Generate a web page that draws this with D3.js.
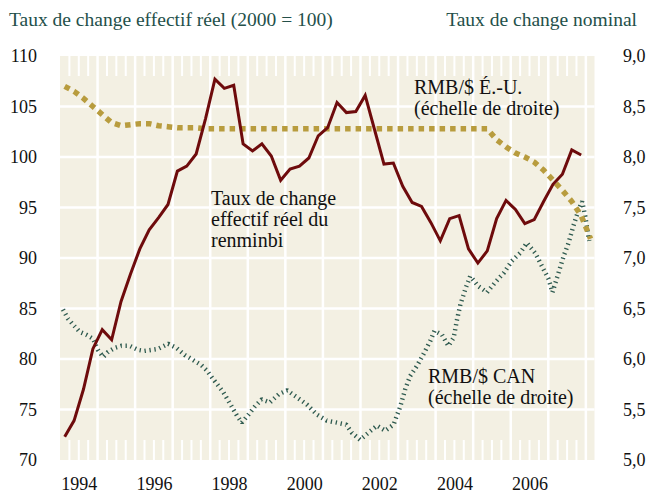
<!DOCTYPE html>
<html>
<head>
<meta charset="utf-8">
<script src="https://cdn.jsdelivr.net/npm/d3@7"></script>
<style>
  body { margin: 0; background: #fff; }
  svg { display: block; font-family: "Liberation Serif", "Times New Roman", serif; }
</style>
</head>
<body>
<div id="chart"></div>
<script>
var width = 649, height = 493;

// quarterly, 1994T1 - 2007T4 (taux de change effectif réel, 2000 = 100)
var reer = [
  72.3, 73.9, 77.0, 81.0,
  82.9, 81.9, 85.7, 88.4,
  90.9, 92.8, 94.0, 95.3,
  98.6, 99.1, 100.3, 103.8,
  107.7, 106.8, 107.1, 101.3,
  100.6, 101.3, 100.1, 97.7,
  98.8, 99.1, 99.9, 102.1,
  102.9, 105.4, 104.4, 104.5,
  106.1, 102.7, 99.3, 99.4,
  97.1, 95.5, 95.1, 93.5,
  91.7, 93.9, 94.2, 90.9,
  89.5, 90.7, 93.9, 95.7,
  94.8, 93.4, 93.8, 95.6,
  97.3, 98.3, 100.7, 100.2
];

// quarterly, 1994T1 - 2008T1 (RMB/$ É.-U.)
var usd = [
  8.70, 8.65, 8.58, 8.50,
  8.42, 8.34, 8.31, 8.32,
  8.33, 8.33, 8.31, 8.30,
  8.29, 8.29, 8.29, 8.28,
  8.28, 8.28, 8.28, 8.28,
  8.28, 8.28, 8.28, 8.28,
  8.28, 8.28, 8.28, 8.28,
  8.28, 8.28, 8.28, 8.28,
  8.28, 8.28, 8.28, 8.28,
  8.28, 8.28, 8.28, 8.28,
  8.28, 8.28, 8.28, 8.28,
  8.28, 8.28, 8.17, 8.10,
  8.04, 8.00, 7.95, 7.87,
  7.77, 7.67, 7.56, 7.42,
  7.19
];

// RMB/$ CAN
var canDates = [
  1994.08, 1994.21, 1994.35, 1994.52, 1994.70, 1994.88, 1995.01, 1995.15, 1995.28, 1995.46,
  1995.63, 1995.86, 1996.08, 1996.24, 1996.43, 1996.61, 1996.88, 1997.10, 1997.32, 1997.54,
  1997.76, 1997.90, 1998.08, 1998.35, 1998.57, 1998.71, 1998.84, 1999.02, 1999.19, 1999.37,
  1999.59, 1999.82, 2000.05, 2000.31, 2000.57, 2000.84, 2001.10, 2001.37, 2001.62, 2001.77,
  2001.99, 2002.21, 2002.44, 2002.66, 2002.88, 2003.06, 2003.19, 2003.32, 2003.50, 2003.68,
  2003.86, 2003.97, 2004.17, 2004.34, 2004.48, 2004.57, 2004.66, 2004.79, 2004.92, 2005.14,
  2005.37, 2005.59, 2005.81, 2006.03, 2006.25, 2006.43, 2006.65, 2006.83, 2007.01, 2007.11,
  2007.27, 2007.41, 2007.54, 2007.67, 2007.81, 2007.90, 2007.98, 2008.09
];
var canValues = [
  6.49, 6.40, 6.34, 6.27, 6.24, 6.20, 6.09, 6.02, 6.07, 6.11,
  6.13, 6.13, 6.09, 6.08, 6.09, 6.10, 6.15, 6.11, 6.04, 5.99,
  5.94, 5.89, 5.80, 5.67, 5.53, 5.44, 5.37, 5.45, 5.53, 5.60,
  5.57, 5.65, 5.69, 5.62, 5.55, 5.45, 5.39, 5.37, 5.35, 5.27,
  5.20, 5.27, 5.34, 5.29, 5.35, 5.53, 5.70, 5.83, 5.93, 6.05,
  6.18, 6.28, 6.24, 6.13, 6.21, 6.39, 6.54, 6.69, 6.82, 6.72,
  6.66, 6.76, 6.85, 6.97, 7.05, 7.15, 7.05, 6.92, 6.79, 6.66,
  6.85, 7.02, 7.15, 7.32, 7.48, 7.56, 7.42, 7.17
];

var leftTicks = [70, 75, 80, 85, 90, 95, 100, 105, 110];
var rightTicks = [5.0, 5.5, 6.0, 6.5, 7.0, 7.5, 8.0, 8.5, 9.0];
var yearLabels = [1994, 1996, 1998, 2000, 2002, 2004, 2006];

// plot box
var pLeft = 60, pRight = 594.5, pTop = 56, pBottom = 460;

var x = d3.scaleLinear().domain([1994, 2008.23]).range([pLeft, pRight]);
var yL = d3.scaleLinear().domain([70, 110]).range([pBottom, pTop]);
var yR = d3.scaleLinear().domain([5, 9]).range([pBottom, pTop]);

var svg = d3.select('#chart').append('svg')
    .attr('width', width)
    .attr('height', height);

svg.append('rect')
    .attr('x', pLeft).attr('y', pTop)
    .attr('width', pRight - pLeft).attr('height', pBottom - pTop)
    .attr('fill', '#f3f0e3');

// grid
var grid = svg.append('g').attr('stroke', '#fff').attr('stroke-width', 2.5);
grid.selectAll('.hgrid')
    .data(leftTicks.slice(1, -1))
  .enter().append('line')
    .attr('x1', pLeft).attr('x2', pRight)
    .attr('y1', function(d) { return yL(d); })
    .attr('y2', function(d) { return yL(d); });

var years = d3.range(1995, 2009);
grid.selectAll('.vgrid')
    .data(years)
  .enter().append('line')
    .attr('x1', function(d) { return x(d); })
    .attr('x2', function(d) { return x(d); })
    .attr('y1', pTop).attr('y2', pBottom);

// quarter ticks, top and bottom
var quarters = [];
d3.range(1994, 2009).forEach(function(yr) {
  [0.25, 0.5, 0.75].forEach(function(q) {
    if (x(yr + q) < pRight - 2) quarters.push(yr + q);
  });
});
var qt = svg.append('g').attr('stroke', '#fff').attr('stroke-width', 2);
qt.selectAll('.qtop')
    .data(quarters)
  .enter().append('line')
    .attr('x1', function(d) { return x(d); })
    .attr('x2', function(d) { return x(d); })
    .attr('y1', pTop).attr('y2', pTop + 20);
qt.selectAll('.qbot')
    .data(quarters)
  .enter().append('line')
    .attr('x1', function(d) { return x(d); })
    .attr('x2', function(d) { return x(d); })
    .attr('y1', pBottom - 20).attr('y2', pBottom);

// axes
function styleAxis(g) {
  g.select('.domain').remove();
  g.selectAll('.tick line').remove();
  g.selectAll('text')
      .attr('font-family', '"Liberation Serif", "Times New Roman", serif')
      .attr('font-size', 18)
      .attr('fill', '#111');
}

svg.append('g')
    .attr('transform', 'translate(' + pLeft + ',0)')
    .call(d3.axisLeft(yL).tickValues(leftTicks).tickSize(0).tickPadding(23))
    .call(styleAxis);

svg.append('g')
    .attr('transform', 'translate(' + pRight + ',0)')
    .call(d3.axisRight(yR).tickValues(rightTicks).tickSize(0).tickPadding(28.5)
      .tickFormat(function(d) { return d3.format('.1f')(d).replace('.', ','); }))
    .call(styleAxis);

svg.append('g')
    .attr('transform', 'translate(0,' + pBottom + ')')
    .call(d3.axisBottom(x).tickValues(yearLabels.map(function(d) { return d + 0.5; }))
      .tickSize(0).tickPadding(17.5)
      .tickFormat(function(d) { return Math.floor(d); }))
    .call(styleAxis);

// lines
var lineCan = d3.line()
    .x(function(d, i) { return x(canDates[i]); })
    .y(function(d) { return yR(d); });
svg.append('path')
    .datum(canValues)
    .attr('d', lineCan)
    .attr('fill', 'none')
    .attr('stroke', '#2e5a4f')
    .attr('stroke-width', 4.5)
    .attr('stroke-linejoin', 'bevel')
    .attr('stroke-dasharray', '1.3,3.7');

var lineUsd = d3.line()
    .x(function(d, i) { return x(1994 + i / 4 + 0.125); })
    .y(function(d) { return yR(d); });
svg.append('path')
    .datum(usd)
    .attr('d', lineUsd)
    .attr('fill', 'none')
    .attr('stroke', '#b89c3e')
    .attr('stroke-width', 5.5)
    .attr('stroke-linejoin', 'bevel')
    .attr('stroke-dasharray', '5.5,5');

var lineReer = d3.line()
    .x(function(d, i) { return x(1994 + i / 4 + 0.125); })
    .y(function(d) { return yL(d); });
svg.append('path')
    .datum(reer)
    .attr('d', lineReer)
    .attr('fill', 'none')
    .attr('stroke', '#6e0b0c')
    .attr('stroke-width', 3)
    .attr('stroke-linejoin', 'miter');

// titles
svg.append('text')
    .attr('x', 9).attr('y', 26)
    .attr('font-size', 19.5).attr('fill', '#24504a')
    .text('Taux de change effectif réel (2000 = 100)');
svg.append('text')
    .attr('x', 637).attr('y', 26)
    .attr('text-anchor', 'end')
    .attr('font-size', 19.5).attr('fill', '#24504a')
    .text('Taux de change nominal');

// labels
function label(lines, lx, ly) {
  var t = svg.append('text')
      .attr('font-size', 20).attr('fill', '#111');
  lines.forEach(function(s, i) {
    t.append('tspan').attr('x', lx).attr('y', ly + i * 21).text(s);
  });
}
label(['Taux de change', 'effectif réel du', 'renminbi'], 211, 205);
label(['RMB/$ É.-U.', '(échelle de droite)'], 414, 94);
label(['RMB/$ CAN', '(échelle de droite)'], 428, 383);
</script>
</body>
</html>
